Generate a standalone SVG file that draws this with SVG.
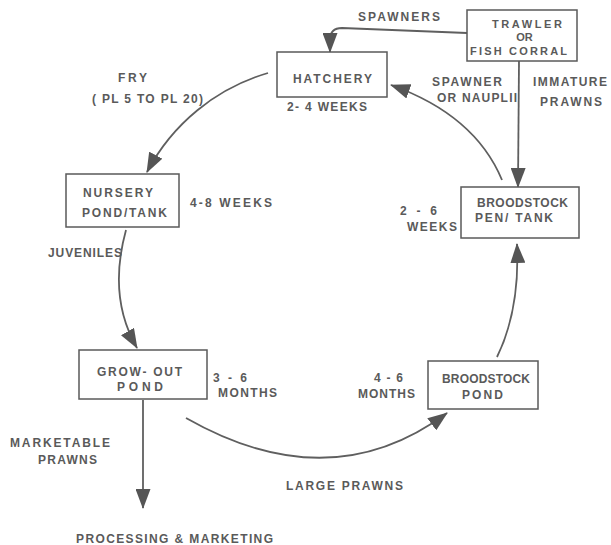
<svg xmlns="http://www.w3.org/2000/svg" width="611" height="545" viewBox="0 0 611 545">
<defs>
<style>
.box{fill:#fff;stroke:#5a5a5a;stroke-width:1.5}
.ln{fill:none;stroke:#5f5f5f;stroke-width:1.8}
text{font-family:"Liberation Sans",Arial,sans-serif;font-size:12px;font-weight:bold;fill:#5a5a5a}
.sm{font-size:11px}
</style>
<marker id="ah" markerUnits="userSpaceOnUse" markerWidth="20" markerHeight="15" refX="19" refY="7.5" orient="auto" viewBox="0 0 20 15">
<path d="M0,0 L20,7.5 L0,15 Z" fill="#555"/>
</marker>
</defs>
<g id="connectors">
<path class="ln" d="M467,33 L342,28 Q330,28 330,40 L330,52" marker-end="url(#ah)"/>
<path class="ln" d="M519,61 L518,187" marker-end="url(#ah)"/>
<path class="ln" d="M502,180 Q475,115 391,85" marker-end="url(#ah)"/>
<path class="ln" d="M268,73 A200,200 0 0 0 147,172" marker-end="url(#ah)"/>
<path class="ln" d="M126,230 C115,270 115,310 137,348" marker-end="url(#ah)"/>
<path class="ln" d="M186,418 Q330,500 447,413" marker-end="url(#ah)"/>
<path class="ln" d="M497,357 Q520,310 517,244" marker-end="url(#ah)"/>
<path class="ln" d="M143,400 L143,508" marker-end="url(#ah)"/>
</g>
<g id="labels">
<text x="358" y="21" textLength="82" lengthAdjust="spacing">SPAWNERS</text>
<text x="432" y="86" textLength="70" lengthAdjust="spacing">SPAWNER</text>
<text x="437" y="102" textLength="80" lengthAdjust="spacing">OR NAUPLII</text>
<text x="533" y="86" textLength="74" lengthAdjust="spacing">IMMATURE</text>
<text x="540" y="106" textLength="62" lengthAdjust="spacing">PRAWNS</text>
<text x="118" y="82" textLength="29" lengthAdjust="spacing">FRY</text>
<text x="92" y="103" textLength="111" lengthAdjust="spacing">( PL 5 TO PL 20)</text>
<text x="48" y="257" textLength="74" lengthAdjust="spacing">JUVENILES</text>
<text x="10" y="447" textLength="100" lengthAdjust="spacing">MARKETABLE</text>
<text x="38" y="464" textLength="59" lengthAdjust="spacing">PRAWNS</text>
<text x="286" y="490" textLength="117" lengthAdjust="spacing">LARGE PRAWNS</text>
<text x="76" y="543" textLength="197" lengthAdjust="spacing">PROCESSING &amp; MARKETING</text>
</g>
<g id="trawler">
<rect class="box" x="467" y="10" width="110" height="51"/>
<text class="sm" x="492" y="28" textLength="70" lengthAdjust="spacing">TRAWLER</text>
<text class="sm" x="524.5" y="41" text-anchor="middle">OR</text>
<text class="sm" x="470" y="55" textLength="97" lengthAdjust="spacing">FISH CORRAL</text>
</g>
<g id="hatchery">
<rect class="box" x="277" y="52" width="110" height="45"/>
<text x="293" y="83" textLength="79" lengthAdjust="spacing">HATCHERY</text>
<text x="287" y="111" textLength="80" lengthAdjust="spacing">2- 4 WEEKS</text>
</g>
<g id="nursery">
<rect class="box" x="66" y="174" width="113" height="53"/>
<text x="83" y="197" textLength="70" lengthAdjust="spacing">NURSERY</text>
<text x="82" y="217" textLength="85" lengthAdjust="spacing">POND/TANK</text>
<text x="190" y="207" textLength="82" lengthAdjust="spacing">4-8 WEEKS</text>
</g>
<g id="growout">
<rect class="box" x="79" y="350" width="128" height="49"/>
<text x="97" y="376" textLength="85" lengthAdjust="spacing">GROW- OUT</text>
<text x="117" y="391" textLength="46" lengthAdjust="spacing">POND</text>
<text x="213" y="382" textLength="34" lengthAdjust="spacing">3 - 6</text>
<text x="218" y="397" textLength="59" lengthAdjust="spacing">MONTHS</text>
</g>
<g id="broodstock-pond">
<rect class="box" x="428" y="361" width="110" height="48"/>
<text x="442" y="383" textLength="88" lengthAdjust="spacing">BROODSTOCK</text>
<text x="462" y="399" textLength="41" lengthAdjust="spacing">POND</text>
<text x="374" y="382" textLength="29" lengthAdjust="spacing">4 - 6</text>
<text x="358" y="398" textLength="57" lengthAdjust="spacing">MONTHS</text>
</g>
<g id="broodstock-pen">
<rect class="box" x="461" y="187" width="118" height="51"/>
<text x="477" y="207" textLength="91" lengthAdjust="spacing">BROODSTOCK</text>
<text x="475" y="222" textLength="78" lengthAdjust="spacing">PEN/ TANK</text>
<text x="400" y="215" textLength="37" lengthAdjust="spacing">2 - 6</text>
<text x="407" y="231" textLength="50" lengthAdjust="spacing">WEEKS</text>
</g>
</svg>
